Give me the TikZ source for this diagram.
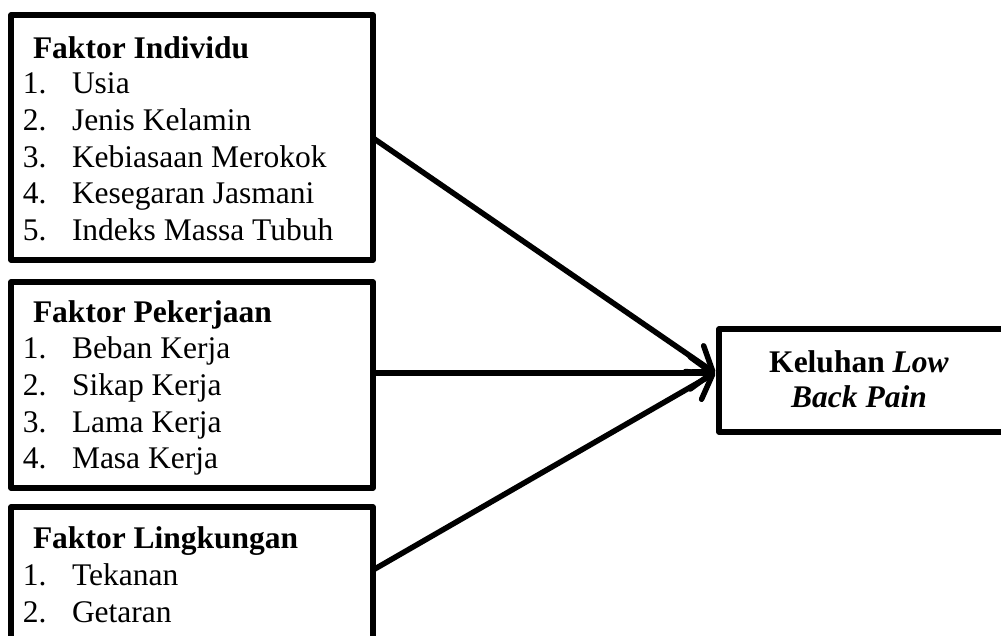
\documentclass[tikz,border=0pt]{standalone}
\usepackage{fontspec}
\setmainfont{Liberation Serif}
\usetikzlibrary{arrows.meta}
\begin{document}
\begin{tikzpicture}[x=1pt,y=-1pt,
  box/.style={draw, rectangle, line width=5.5pt, inner sep=0pt, outer sep=0pt, line join=round},
  txt/.style={anchor=base west, inner sep=0pt, outer sep=0pt, font=\fontsize{31.5}{36}\selectfont},
  ctxt/.style={anchor=base, inner sep=0pt, outer sep=0pt, font=\fontsize{31.5}{36}\selectfont},
  arr/.style={line width=5.5pt, line cap=round, -{Straight Barb[length=22pt,width=32pt,line cap=round,line join=round]}}]
\useasboundingbox (0,0) rectangle (1001,635);
% boxes
\node[box, minimum width=362pt, minimum height=245pt] (b1) at (192,137.5) {};
\node[box, minimum width=362pt, minimum height=206pt] (b2) at (192,385) {};
\node[box, minimum width=362pt, minimum height=138pt] (b3) at (192,576) {};
\node[box, minimum width=286pt, minimum height=103pt] (r) at (862,380.5) {};
% box 1 text
\node[txt] (h1) at (33,58) {\textbf{Faktor Individu}};
\node[txt] (n11) at (23,93) {1.}; \node[txt] (t11) at (72,93) {Usia};
\node[txt] (n12) at (23,130) {2.}; \node[txt] (t12) at (72,130) {Jenis Kelamin};
\node[txt] (n13) at (23,167) {3.}; \node[txt] (t13) at (72,167) {Kebiasaan Merokok};
\node[txt] (n14) at (23,203) {4.}; \node[txt] (t14) at (72,203) {Kesegaran Jasmani};
\node[txt] (n15) at (23,240) {5.}; \node[txt] (t15) at (72,240) {Indeks Massa Tubuh};
% box 2 text
\node[txt] (h2) at (33,322) {\textbf{Faktor Pekerjaan}};
\node[txt] (n21) at (23,358) {1.}; \node[txt] (t21) at (72,358) {Beban Kerja};
\node[txt] (n22) at (23,395) {2.}; \node[txt] (t22) at (72,395) {Sikap Kerja};
\node[txt] (n23) at (23,432) {3.}; \node[txt] (t23) at (72,432) {Lama Kerja};
\node[txt] (n24) at (23,468) {4.}; \node[txt] (t24) at (72,468) {Masa Kerja};
% box 3 text
\node[txt] (h3) at (33,548) {\textbf{Faktor Lingkungan}};
\node[txt] (n31) at (23,585) {1.}; \node[txt] (t31) at (72,585) {Tekanan};
\node[txt] (n32) at (23,622) {2.}; \node[txt] (t32) at (72,622) {Getaran};
% right box text
\node[ctxt] (rt1) at (859,372) {\textbf{Keluhan \textit{Low}}};
\node[ctxt] (rt2) at (859,407) {\textbf{\textit{Back Pain}}};
% connectors
\coordinate (s1) at (373,138);
\coordinate (s2) at (373,373);
\coordinate (s3) at (373,570);
\coordinate (tip) at (715,373);
\draw[arr] (s1) -- (tip);
\draw[arr] (s2) -- (tip);
\draw[arr] (s3) -- (tip);
\end{tikzpicture}
\end{document}
